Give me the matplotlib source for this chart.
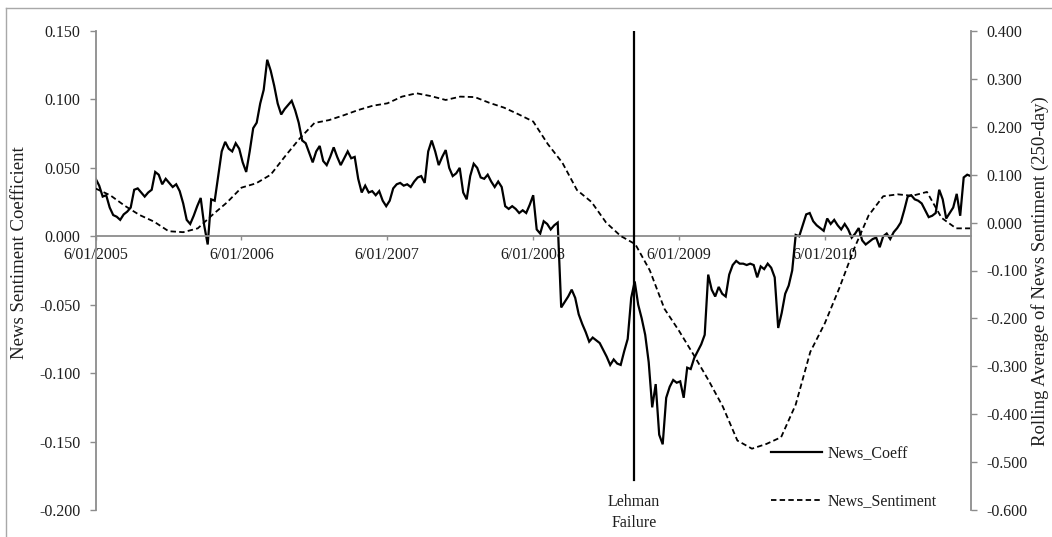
import matplotlib
matplotlib.use("Agg")
import matplotlib.pyplot as plt
import matplotlib.dates as mdates
from matplotlib.lines import Line2D
from matplotlib.ticker import FixedLocator, FuncFormatter
import pandas as pd

# ---------------------------------------------------------------------------
# Data
# ---------------------------------------------------------------------------
start_date = "2005-01-06"
end_date = "2011-01-06"
lehman_date = "2008-09-15"

# Regression coefficient on news sentiment (left axis), evenly spaced in time
news_coeff = [
    0.042, 0.037, 0.029, 0.030, 0.021, 0.0155, 0.0143, 0.012, 0.016, 0.018,
    0.021, 0.034, 0.035, 0.032, 0.029, 0.032, 0.034, 0.047, 0.045, 0.038,
    0.042, 0.039, 0.036, 0.038, 0.033, 0.024, 0.012, 0.009, 0.015, 0.022,
    0.028, 0.008, -0.006, 0.027, 0.026, 0.044, 0.062, 0.069, 0.064, 0.062,
    0.068, 0.064, 0.054, 0.047, 0.062, 0.079, 0.083, 0.097, 0.107, 0.129,
    0.121, 0.110, 0.097, 0.089, 0.093, 0.096, 0.099, 0.092, 0.083, 0.070,
    0.068, 0.061, 0.054, 0.062, 0.066, 0.055, 0.052, 0.058, 0.065, 0.058,
    0.052, 0.057, 0.062, 0.057, 0.058, 0.042, 0.032, 0.037, 0.032, 0.033,
    0.030, 0.033, 0.026, 0.022, 0.026, 0.035, 0.038, 0.039, 0.037, 0.038,
    0.036, 0.040, 0.043, 0.044, 0.039, 0.062, 0.070, 0.062, 0.052, 0.058,
    0.063, 0.050, 0.044, 0.046, 0.050, 0.032, 0.027, 0.044, 0.053, 0.050,
    0.043, 0.042, 0.045, 0.040, 0.036, 0.040, 0.036, 0.022, 0.020, 0.022,
    0.020, 0.017, 0.019, 0.017, 0.023, 0.030, 0.005, 0.002, 0.011, 0.009,
    0.005, 0.008, 0.010, -0.052, -0.048, -0.044, -0.039, -0.045, -0.057, -0.064,
    -0.070, -0.077, -0.074, -0.076, -0.078, -0.083, -0.088, -0.094, -0.090, -0.093,
    -0.094, -0.084, -0.075, -0.045, -0.033, -0.050, -0.060, -0.072, -0.092, -0.125,
    -0.108, -0.145, -0.152, -0.118, -0.110, -0.105, -0.107, -0.106, -0.118, -0.096,
    -0.097, -0.089, -0.084, -0.079, -0.072, -0.028, -0.039, -0.044, -0.037, -0.042,
    -0.044, -0.028, -0.021, -0.018, -0.020, -0.020, -0.021, -0.020, -0.021, -0.030,
    -0.022, -0.024, -0.020, -0.023, -0.030, -0.067, -0.056, -0.042, -0.036, -0.025,
    0.001, 0.000, 0.008, 0.016, 0.017, 0.011, 0.008, 0.006, 0.004, 0.013,
    0.009, 0.012, 0.008, 0.005, 0.009, 0.005, -0.001, 0.002, 0.006, -0.003,
    -0.006, -0.004, -0.002, -0.001, -0.008, 0.000, 0.002, -0.002, 0.003, 0.006,
    0.010, 0.019, 0.029, 0.030, 0.027, 0.026, 0.024, 0.019, 0.014, 0.015,
    0.017, 0.034, 0.027, 0.013, 0.017, 0.021, 0.031, 0.015, 0.043, 0.045,
    0.044,
]

# 250-day rolling average of news sentiment (right axis), evenly spaced in time
news_sentiment = [
    0.071, 0.057, 0.035, 0.016, 0.002, -0.018, -0.020, -0.012, 0.016, 0.042,
    0.073, 0.082, 0.100, 0.139, 0.176, 0.208, 0.214, 0.224, 0.235, 0.244,
    0.249, 0.263, 0.270, 0.264, 0.256, 0.263, 0.262, 0.250, 0.240, 0.226,
    0.211, 0.164, 0.125, 0.068, 0.043, 0.000, -0.028, -0.045, -0.100, -0.180,
    -0.226, -0.276, -0.328, -0.384, -0.455, -0.472, -0.462, -0.448, -0.380, -0.270,
    -0.210, -0.136, -0.055, 0.015, 0.055, 0.059, 0.056, 0.064, 0.010, -0.012,
    -0.012,
]

year_ticks = ["2005-01-06", "2006-01-06", "2007-01-06",
              "2008-01-06", "2009-01-06", "2010-01-06"]
year_tick_labels = ["6/01/2005", "6/01/2006", "6/01/2007",
                    "6/01/2008", "6/01/2009", "6/01/2010"]
left_ticks = [-0.20, -0.15, -0.10, -0.05, 0.00, 0.05, 0.10, 0.15]
right_ticks = [-0.6, -0.5, -0.4, -0.3, -0.2, -0.1, 0.0, 0.1, 0.2, 0.3, 0.4]

# ---------------------------------------------------------------------------
# Figure
# ---------------------------------------------------------------------------
plt.rcParams["font.family"] = ["Liberation Serif", "DejaVu Serif"]
plt.rcParams["axes.unicode_minus"] = False

W, H = 1052, 537
fig = plt.figure(figsize=(W / 100, H / 100), dpi=100)
fig.patch.set_facecolor("white")

AXIS_GREY = "#8c8c8c"
TEXT = "#1e1e1e"
TICK_FS = 11.5
LABEL_FS = 13.5

left, right, top, bottom = 95.7, 970.7, 31.0, 510.0
ax = fig.add_axes([left / W, 1 - bottom / H, (right - left) / W, (bottom - top) / H])
ax2 = ax.twinx()

coeff_dates = pd.date_range(start_date, end_date, periods=len(news_coeff))
sent_dates = pd.date_range(start_date, end_date, periods=len(news_sentiment))

ax.plot(coeff_dates, news_coeff, color="black", lw=1.6, solid_joinstyle="miter")
ax2.plot(sent_dates, news_sentiment, color="black", lw=1.3,
         linestyle=(0, (3.0, 1.8)))

# Lehman Brothers failure marker
lehman = pd.Timestamp(lehman_date)
ax2.axvline(lehman, ymin=(bottom - 480) / (bottom - top), ymax=1.0,
            color="black", lw=1.6)
ax2.text(lehman, 0.034, "Lehman\nFailure", transform=ax2.get_xaxis_transform(),
         ha="center", va="top", fontsize=TICK_FS, color=TEXT, linespacing=1.45)

# Axes limits and ticks
ax.set_xlim(pd.Timestamp(start_date), pd.Timestamp(end_date))
ax.set_ylim(-0.2, 0.15)
ax2.set_ylim(-0.6, 0.4)

ax.xaxis.set_major_locator(FixedLocator(mdates.date2num(pd.to_datetime(year_ticks))))
ax.set_xticklabels(year_tick_labels)
ax.yaxis.set_major_locator(FixedLocator(left_ticks))
ax2.yaxis.set_major_locator(FixedLocator(right_ticks))
fmt = FuncFormatter(lambda v, p: f"{v:.3f}")
ax.yaxis.set_major_formatter(fmt)
ax2.yaxis.set_major_formatter(fmt)

for a in (ax, ax2):
    for s in a.spines.values():
        s.set_visible(False)
    a.patch.set_visible(False)

ax.spines["left"].set_visible(True)
ax.spines["left"].set_color(AXIS_GREY)
ax.spines["left"].set_linewidth(1.3)
ax.spines["bottom"].set_visible(True)
ax.spines["bottom"].set_position(("data", 0.0))
ax.spines["bottom"].set_color(AXIS_GREY)
ax.spines["bottom"].set_linewidth(1.3)
ax2.spines["right"].set_visible(True)
ax2.spines["right"].set_color(AXIS_GREY)
ax2.spines["right"].set_linewidth(1.3)

ax.tick_params(axis="y", direction="out", length=4, width=1.0, color=AXIS_GREY,
               pad=7, labelsize=TICK_FS, labelcolor=TEXT)
ax.tick_params(axis="x", direction="out", length=3, width=1.0, color=AXIS_GREY,
               pad=5, labelsize=TICK_FS, labelcolor=TEXT)
ax2.tick_params(axis="y", direction="out", length=4, width=1.0, color=AXIS_GREY,
                pad=7, labelsize=TICK_FS, labelcolor=TEXT)
ax2.set_zorder(ax.get_zorder() + 1)

# Legend
handles = [
    Line2D([], [], color="black", lw=1.6),
    Line2D([], [], color="black", lw=1.3, linestyle=(0, (3.0, 1.8))),
]
ax2.legend(handles, ["News_Coeff", "News_Sentiment"], loc="upper left",
           bbox_to_anchor=(771 / W, 1 - 446 / H), bbox_transform=fig.transFigure,
           frameon=False, borderpad=0, borderaxespad=0, handlelength=3.2,
           handletextpad=0.35, labelspacing=1.95, fontsize=TICK_FS,
           labelcolor=TEXT)

# Axis titles
fig.text(20 / W, 1 - 252.5 / H, "News Sentiment Coefficient", rotation=90,
         ha="center", va="center", fontsize=LABEL_FS, color=TEXT)
fig.text(1040 / W, 1 - 271.5 / H,
         "Rolling Average of News Sentiment (250-day)", rotation=90,
         ha="center", va="center", fontsize=LABEL_FS, color=TEXT)

# Chart-area border
border = dict(color="#a8a8a8", lw=1.0, transform=fig.transFigure)
fig.add_artist(Line2D([6 / W, 6 / W], [0, 1 - 8 / H], **border))
fig.add_artist(Line2D([6 / W, 1], [1 - 8 / H, 1 - 8 / H], **border))

fig.savefig("out.png", dpi=100, facecolor="white")
